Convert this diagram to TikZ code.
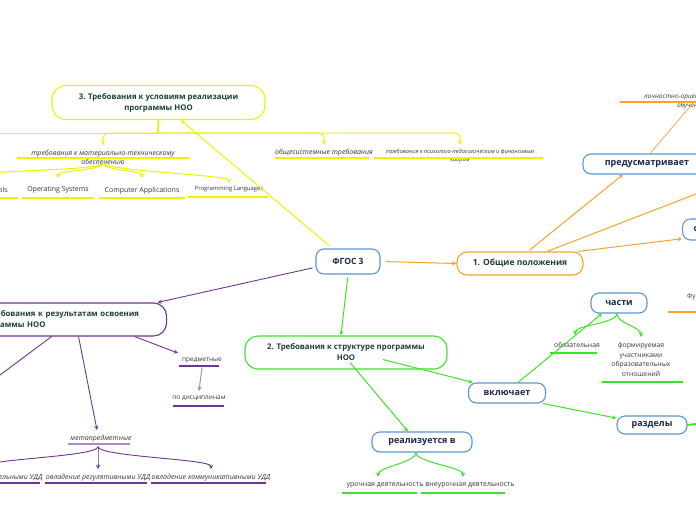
\documentclass[tikz,border=0pt]{standalone}
\usepackage{fontspec}
\setmainfont{Open Sans}
\usetikzlibrary{calc}

\definecolor{ylw}{RGB}{240,240,0}
\definecolor{orn}{RGB}{247,163,40}
\definecolor{prp}{RGB}{112,52,150}
\definecolor{lprp}{RGB}{175,135,205}
\definecolor{grn}{RGB}{60,228,40}
\definecolor{blu}{RGB}{88,152,212}
\definecolor{navy}{RGB}{25,38,72}
\definecolor{dkgrn}{RGB}{28,62,52}
\definecolor{txt}{RGB}{55,55,55}

\begin{document}
\begin{tikzpicture}[x=1pt,y=-1pt,>=stealth,
    box/.style={draw,line width=1.1pt,rounded corners=8pt,fill=white,inner sep=0pt},
    verb/.style={box,draw=blu,text=navy,font=\fontsize{9}{10}\selectfont\bfseries},
    topic/.style={box,text=dkgrn,font=\fontsize{7.8}{11}\selectfont\bfseries,align=center,rounded corners=13pt},
    leaf/.style={inner sep=1pt,text=txt,font=\fontsize{7}{9}\selectfont,align=center},
    ileaf/.style={leaf,font=\fontsize{7}{9}\selectfont\itshape},
    yl/.style={draw=ylw,line width=1pt},
    ol/.style={draw=orn,line width=1pt},
    pl/.style={draw=prp,line width=0.9pt},
    gl/.style={draw=grn,line width=1pt}]
    \fill[white] (0,0) rectangle (696,520);
    \useasboundingbox (0,0) rectangle (696,520);

    % centre and the four topics
    \node[verb,minimum width=64pt,minimum height=25pt,
        font=\fontsize{8.5}{10}\selectfont\bfseries] (fgos) at (348,261.5) {ФГОС 3};
    \node[topic,draw=orn,minimum width=126pt,minimum height=23pt,rounded corners=10pt,
        font=\fontsize{8.5}{10}\selectfont\bfseries] (gen) at (520,263.5) {1. Общие положения};
    \node[topic,draw=grn,minimum width=202pt,minimum height=33pt] (struct) at (346,352.5)
        {2. Требования к структуре программы\\НОО};
    \node[topic,draw=ylw,minimum width=213pt,minimum height=34pt,rounded corners=14pt]
        (cond) at (158.5,102.5) {3. Требования к условиям реализации\\программы НОО};
    \node[topic,draw=prp,anchor=west,minimum height=33pt,text width=178pt,align=left,
        inner xsep=12pt] (res) at (-36,319.5) {4. Требования к результатам освоения\\программы НОО};

    % orange side
    \node[verb,minimum width=128pt,minimum height=20pt] (prov) at (647,164) {предусматривает};
    \node[verb,anchor=west,inner xsep=11pt,minimum height=21pt] (det) at (682,229.5) {описание};
    \node[ileaf,anchor=north west,font=\fontsize{6.5}{9}\selectfont\itshape] (lich) at (643,94)
        {личностно-ориентированное\\обучение};
    \node[leaf,anchor=west,font=\fontsize{6.5}{9}\selectfont] (fu) at (686,297) {Функции};
    \coordinate (lichb) at (693,103);
    \coordinate (offr) at (740,177);

    \draw[ol,->,shorten <=5pt] (fgos.east) -- (gen.west);
    \draw[ol,->,shorten <=2pt] ([xshift=8]gen.north) -- ([xshift=-24]prov.south);
    \draw[ol] ([xshift=27]gen.north) -- (offr);
    \draw[ol,->] ([xshift=58]gen.north) -- (det.195);
    \draw[ol,line width=0.7pt] ([xshift=3]prov.north) -- (lichb);
    \foreach \xa/\xb/\yy in {620/700/102, 668/700/312}
        \draw[ol,line width=1.3pt] (\xa,\yy) -- (\xb,\yy);

    % yellow side
    \node[ileaf,anchor=north,inner ysep=4.5pt] (mat) at (103,145)
        {требования к материально-техническому\\обеспечению};
    \node[ileaf,anchor=north,inner ysep=3.6pt] (syst) at (324,145) {общесистемные требования};
    \node[ileaf,anchor=north,inner ysep=4.3pt,font=\fontsize{5.6}{8}\selectfont\itshape] (psy)
        at (460,145) {требования к психолого-педагогическим и финансовым\\кадрам};
    \node[leaf,anchor=north,inner ysep=8.6pt] (tools) at (-16,178) {Software Tools};
    \node[leaf,anchor=north,inner ysep=8.6pt] (os) at (58,178) {Operating Systems};
    \node[leaf,anchor=north,inner ysep=8.6pt] (apps) at (142,178) {Computer Applications};
    \node[leaf,anchor=north,inner ysep=3.1pt,font=\fontsize{5.9}{8}\selectfont] (prog)
        at (229,183) {Programming Languages};
    \coordinate (ybus) at (158,133);
    \coordinate (yend) at (-10,133);

    \draw[yl,->,shorten <=4pt] (fgos.140) -- ([xshift=22]cond.south);
    \draw[yl,line width=1.8pt] (cond.south) -- (ybus);
    \draw[yl] (yend) -- (ybus);
    \draw[yl,->,rounded corners=5pt] (ybus) -| (mat.north);
    \draw[yl,->,rounded corners=5pt] (ybus) -| (syst.north);
    \draw[yl,->,rounded corners=5pt] (ybus) -| (psy.north);
    \foreach \leaf in {tools,os,apps,prog}
        \draw[yl,->] ($(mat.center)+(0,6)$) .. controls +(0,8) and +(0,-8) .. (\leaf.north);
    \foreach \xa/\xb/\yy in {17/190/158, 275/369/158, 374/543/158, -5/18/198, 22/94/198,
        99/185/198, 188/268/197}
        \draw[yl,line width=1.3pt] (\xa,\yy) -- (\xb,\yy);

    % purple side
    \node[leaf,anchor=north west,inner xsep=4pt,inner ysep=4.5pt,font=\fontsize{6.5}{9}\selectfont]
        (subj) at (178,353) {предметные};
    \node[leaf,anchor=north,inner ysep=4.8pt,font=\fontsize{6.5}{9}\selectfont] (disc)
        at (199,391) {по дисциплинам};
    \node[ileaf,anchor=north,inner ysep=4.6pt] (meta) at (101,430) {метапредметные};
    \node[ileaf,anchor=north,inner ysep=4.6pt] (udda) at (-14,469) {овладение познавательными УДД};
    \node[ileaf,anchor=north,inner ysep=4.6pt] (uddb) at (98,469) {овладение регулятивными УДД};
    \node[ileaf,anchor=north,inner ysep=4.6pt] (uddc) at (211,469) {овладение коммуникативными УДД};
    \coordinate (roff) at (-12,384);

    \draw[pl,->,shorten <=3pt] (fgos.190) -- ([xshift=92]res.north);
    \draw[pl] ([xshift=-14]res.south) -- (roff);
    \draw[pl,->] ([xshift=13]res.south) -- ([xshift=-4]meta.north);
    \draw[pl,->] ([xshift=69]res.south) -- (subj.north west);
    \draw[draw=lprp,line width=1pt,->] (subj.south) -- (disc.north);
    \foreach \leaf in {udda,uddb,uddc}
        \draw[pl,->] ([xshift=-3]meta.south) .. controls +(0,10) and +(0,-10) .. (\leaf.north);
    \draw[draw=lprp,line width=1.3pt] (68,444) -- (130,444);
    \foreach \xa/\xb/\yy in {179/219/366, 173/224/406, -5/40/483, 45/147/483, 151/266/483}
        \draw[pl,line width=1.3pt] (\xa,\yy) -- (\xb,\yy);

    % green side
    \node[verb,minimum width=77pt,minimum height=20pt] (incl) at (507,393) {включает};
    \node[verb,minimum width=100pt,minimum height=20pt] (impl) at (422,442) {реализуется в};
    \node[verb,minimum width=56pt,minimum height=20pt] (parts) at (619,303) {части};
    \node[verb,minimum width=70pt,minimum height=18pt] (sect) at (652,425) {разделы};
    \node[leaf,anchor=north,inner ysep=5.5pt] (les) at (385,477) {урочная деятельность};
    \node[leaf,anchor=north,inner ysep=5.5pt] (ext) at (470,477) {внеурочная деятельность};
    \node[leaf,anchor=north,inner ysep=6.8pt,font=\fontsize{6.8}{9}\selectfont] (must)
        at (577,335) {обязательная};
    \node[leaf,anchor=north,inner ysep=5.1pt,font=\fontsize{6.8}{9.6}\selectfont] (form)
        at (641,337) {формируемая\\участниками\\образовательных\\отношений};
    \coordinate (gend) at (702,423);

    \draw[gl,->,shorten <=3pt] (fgos.south) -- ([xshift=-5]struct.north);
    \draw[gl,->] ($(struct.center)+(37,7)$) -- ([xshift=-34]incl.north);
    \draw[gl,->] ($(struct.center)+(4,10)$) -- ([xshift=-14]impl.north);
    \draw[gl,->] ([xshift=11]incl.north) -- ([xshift=-17]parts.south);
    \draw[gl,->] ([xshift=-3]incl.south east) -- (sect.169);
    \draw[gl,->] ([xshift=-6]impl.south) .. controls +(0,10) and +(0,-10) .. ([xshift=-7]les.north);
    \draw[gl,->] ([xshift=-6]impl.south) .. controls +(0,10) and +(0,-10) .. ([xshift=-7]ext.north);
    \draw[gl,->] ([xshift=-2]parts.south) .. controls +(0,10) and +(0,-10) .. ([xshift=-2]must.north);
    \draw[gl,->] ([xshift=-2]parts.south) .. controls +(0,10) and +(0,-10) .. (form.north);
    \draw[gl,line width=1.8pt] (sect.east) -- (gend);
    \foreach \xa/\xb/\yy in {342/417/493, 421/505/493, 550/597/353, 602/683/382}
        \draw[gl,line width=1.3pt] (\xa,\yy) -- (\xb,\yy);
\end{tikzpicture}
\end{document}
